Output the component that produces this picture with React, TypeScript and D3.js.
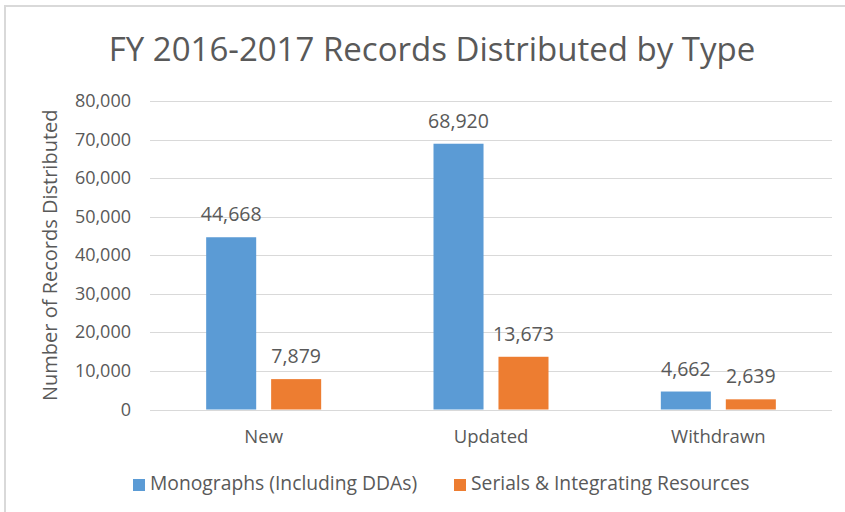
import * as d3 from "d3";
import React from "react";

const categories = ["New", "Updated", "Withdrawn"];
const seriesNames = ["Monographs (Including DDAs)", "Serials & Integrating Resources"];
const monographs = [44668, 68920, 4662];
const serials = [7879, 13673, 2639];
const yTicks = [0, 10000, 20000, 30000, 40000, 50000, 60000, 70000, 80000];
const colors = ["#5b9bd5", "#ed7d31"];

const W = 845;
const H = 512;
const FONT = "'Open Sans', sans-serif";
const TXT = "#595959";

const App = () => {
  const margin = { top: 101, right: 13, bottom: 102, left: 150 };
  const x0 = d3
    .scaleBand()
    .domain(categories)
    .range([margin.left, W - margin.right])
    .padding(0);
  const x1 = d3.scaleBand().domain(seriesNames).range([-57.5, 57.5]).paddingInner(0.23);
  const y = d3.scaleLinear().domain([0, 80000]).range([H - margin.bottom - 0.5, margin.top]);
  const fmt = d3.format(",");
  const values = [monographs, serials];

  return (
    <svg width={W} height={H} style={{ position: "absolute", left: 0, top: 0 }} fontFamily={FONT}>
      <rect x={0} y={0} width={W} height={H} fill="#fff" />
      <rect x={5} y={6} width={W + 10} height={H + 10} fill="none" stroke="#d9d9d9" strokeWidth={2} />
      <text x={432} y={61} textAnchor="middle" fontSize={33} fill={TXT}>
        FY 2016-2017 Records Distributed by Type
      </text>

      {yTicks.map(t => (
        <g key={t}>
          <line x1={margin.left} x2={W - margin.right} y1={Math.round(y(t)) + 0.5} y2={Math.round(y(t)) + 0.5}
            stroke="#d9d9d9" strokeWidth={1} />
          <text x={131} y={y(t) + 6} textAnchor="end" fontSize={18} fill={TXT}>{fmt(t)}</text>
        </g>
      ))}

      <text transform={`translate(57,${(y(0) + y(80000)) / 2}) rotate(-90)`} textAnchor="middle"
        fontSize={20} fill={TXT}>
        Number of Records Distributed
      </text>

      {categories.map((c, i) => {
        const cx = x0(c)! + x0.bandwidth() / 2;
        return (
          <g key={c}>
            {seriesNames.map((s, j) => {
              const v = values[j][i];
              const bx = cx + x1(s)!;
              return (
                <g key={s}>
                  <rect x={bx} y={y(v)} width={x1.bandwidth()} height={y(0) - y(v)} fill={colors[j]} />
                  <text x={bx + x1.bandwidth() / 2} y={y(v) - 16} textAnchor="middle" fontSize={19.5} fill={TXT}>
                    {fmt(v)}
                  </text>
                </g>
              );
            })}
            <text x={cx} y={443} textAnchor="middle" fontSize={18.5} fill={TXT}>{c}</text>
          </g>
        );
      })}

      {seriesNames.map((s, j) => {
        const lx = [133, 454][j];
        return (
          <g key={s}>
            <rect x={lx} y={479} width={12} height={12} fill={colors[j]} />
            <text x={lx + 17} y={490} fontSize={19.3} fill={TXT}>{s}</text>
          </g>
        );
      })}
    </svg>
  );
};

export default App;
